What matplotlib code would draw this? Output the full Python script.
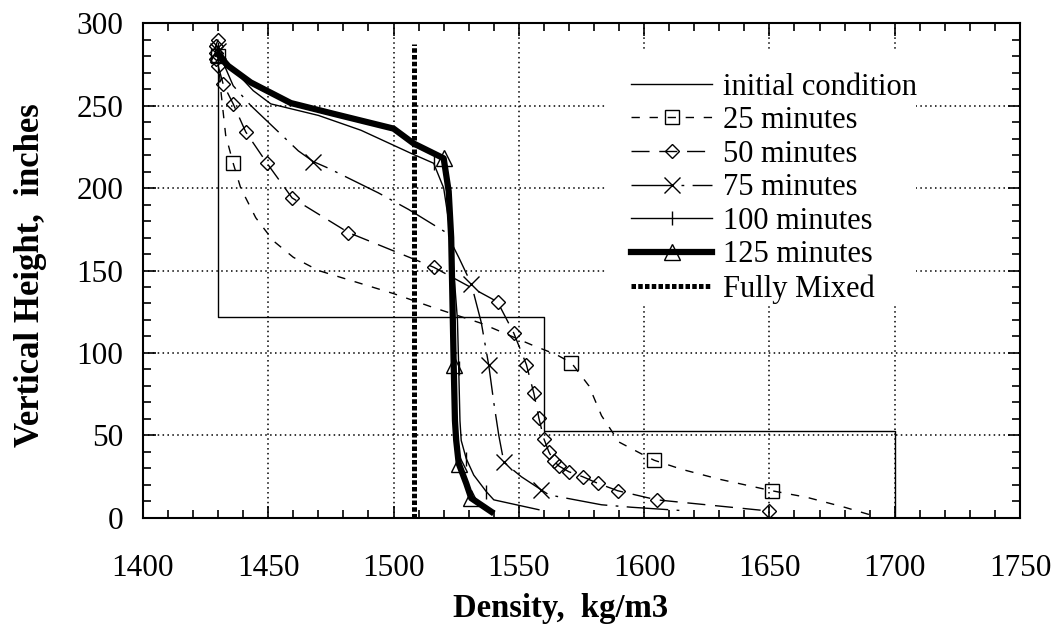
import matplotlib
matplotlib.use('Agg')
import matplotlib.pyplot as plt
from matplotlib.patches import Rectangle
from matplotlib.ticker import MultipleLocator

plt.rcParams['font.family'] = ['Liberation Serif', 'DejaVu Serif']

# density (kg/m3) vs. vertical height (inches) for each time step
init_d = [1430, 1430, 1560, 1560, 1700, 1700]
init_h = [288, 122, 122, 53, 53, 0]

d25 = [1430, 1431, 1433, 1436, 1439, 1445, 1452, 1460, 1470, 1485, 1500, 1515, 1535,
       1555, 1565, 1571, 1578, 1583, 1590, 1600, 1604, 1615, 1630, 1645, 1651, 1665,
       1680, 1690]
h25 = [280, 260, 232, 215, 200, 182, 168, 158, 150, 143, 136, 128, 118, 105, 99, 94,
       80, 62, 46, 38, 35, 29.5, 23.5, 18.5, 16.5, 12.5, 6.5, 2]
m25 = [0, 3, 15, 20, 24]

d50 = [1430, 1429, 1429, 1429, 1430, 1432, 1436, 1441, 1449.5, 1459.5, 1482, 1516,
       1541.5, 1548, 1553, 1556, 1558, 1560, 1562, 1564, 1566, 1570, 1575.5, 1581.5,
       1589.5, 1605, 1650]
h50 = [290, 286, 282, 278, 274, 263, 251, 234, 215, 194, 173, 152, 131, 112, 93, 75.5,
       60.5, 48, 40, 34.5, 31.5, 28, 25, 21, 16.5, 11, 4.2]

d75 = [1430, 1436, 1443, 1462, 1468, 1474, 1494, 1506, 1521, 1526, 1531, 1535, 1538,
       1540, 1542, 1544, 1547, 1551, 1559, 1562, 1583, 1595, 1615]
h75 = [283, 262, 250, 222.5, 216, 212, 197, 187, 173, 158, 142, 118.5, 92.5, 70, 50,
       34, 30, 25, 17, 14, 8, 6.5, 4.5]
m75 = [0, 4, 10, 12, 15, 18]

d100 = [1430, 1436, 1444, 1451, 1470, 1487, 1507, 1516, 1520, 1523, 1525.5, 1526,
        1526.5, 1527, 1529, 1532, 1537, 1540, 1558]
h100 = [283, 272, 259, 251, 244, 235, 221, 215, 200, 170, 120, 91, 59, 47, 36, 26, 16,
        11, 5]
m100 = [0, 7, 11, 14, 16]

d125 = [1430, 1434, 1443, 1459, 1476, 1500, 1508, 1520, 1522, 1523, 1523.5, 1524,
        1524.5, 1525, 1526, 1529, 1531, 1539]
h125 = [281, 274, 264, 251.5, 245, 236, 227, 218, 198, 170, 132, 93, 59, 47, 33, 21,
        12, 3.8]
m125 = [0, 7, 11, 14, 16]

mixed_d = [1508, 1508]
mixed_h = [0, 287]

fs = 22.5

fig = plt.figure(figsize=(10.56, 6.29), dpi=100)
ax = fig.add_axes([0.1354, 0.1765, 0.8305, 0.7869])

ax.plot(init_d, init_h, color='k', lw=1.0, label='initial condition')
ax.plot(d25, h25, color='k', lw=1.0, dashes=(6, 7), marker='s', ms=10,
        mfc='none', mec='k', mew=1.0, markevery=m25, label='25 minutes')
ax.plot(d50, h50, color='k', lw=1.0, dashes=(13, 7), marker='D', ms=7.5,
        mfc='none', mec='k', mew=1.0, label='50 minutes')
ax.plot(d75, h75, color='k', lw=1.0, dashes=(30, 6, 2, 6), marker='x', ms=12,
        mec='k', mew=1.0, markevery=m75, label='75 minutes')
ax.plot(d100, h100, color='k', lw=1.0, marker='|', ms=10, mec='k', mew=1.0,
        markevery=m100, label='100 minutes')
ax.plot(d125, h125, color='k', lw=4.5, marker='^', ms=12, mfc='none', mec='k',
        mew=1.0, markevery=m125, label='125 minutes')
ax.plot(mixed_d, mixed_h, color='k', lw=3.6, dashes=(0.9, 0.45),
        label='Fully Mixed')

ax.set_xlim(1400, 1750)
ax.set_ylim(0, 300)
ax.xaxis.set_major_locator(MultipleLocator(50))
ax.xaxis.set_minor_locator(MultipleLocator(10))
ax.yaxis.set_major_locator(MultipleLocator(50))
ax.yaxis.set_minor_locator(MultipleLocator(10))
ax.tick_params(which='both', direction='in', top=True, right=True, width=1.2,
               labelsize=fs)
ax.tick_params(which='major', length=9)
ax.tick_params(which='minor', length=5.5)
ax.tick_params(axis='x', pad=26)
ax.tick_params(axis='y', pad=14)
for s in ax.spines.values():
    s.set_linewidth(1.5)
ax.grid(True, which='major', color='k', lw=1.1, linestyle=(0, (1, 2.2)))

# blank the grid behind the legend
ax.add_patch(Rectangle((0.527, 0.428), 0.354, 0.517, transform=ax.transAxes,
                       facecolor='white', edgecolor='none', zorder=1.8))

fig.text(561 / 1056, 1 - 608 / 629, 'Density,  kg/m3', ha='center', va='center',
         fontsize=23.5, fontweight='bold')
fig.text(31 / 1056, 1 - 275 / 629, 'Vertical Height,  inches', ha='center',
         va='center', rotation=90, fontsize=25, fontweight='bold')

leg = ax.legend(loc='upper left', bbox_to_anchor=(0.557, 0.90), frameon=False,
                fontsize=22, handlelength=2.65, handletextpad=0.33,
                labelspacing=0.15, borderpad=0, borderaxespad=0, numpoints=1)

fig.savefig('out.png', dpi=100)
